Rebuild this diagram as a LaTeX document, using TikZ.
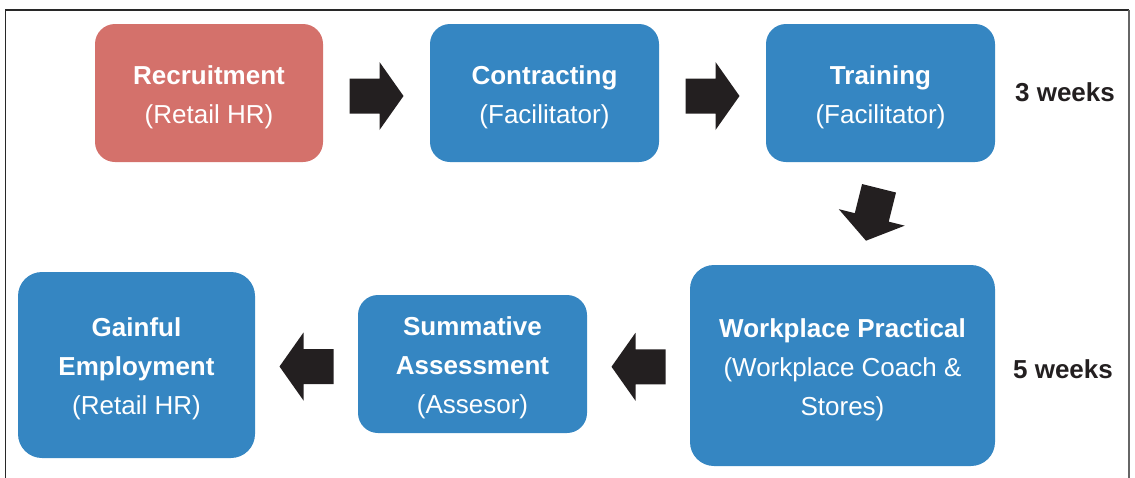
\documentclass[tikz,border=0pt]{standalone}
\usepackage{fontspec}
\setmainfont{Liberation Sans}
\usetikzlibrary{calc}
\definecolor{boxblue}{RGB}{53,134,194}
\definecolor{boxred}{RGB}{212,113,107}
\definecolor{arrowfill}{RGB}{35,31,32}
\definecolor{framegray}{RGB}{40,40,40}
\tikzset{
  x=1pt,y=1pt,
  stage/.style={fill=#1, draw=none, rounded corners=20pt, inner sep=0pt},
  stagetext/.style={text=white, align=center, font=\fontsize{26}{39}\selectfont, inner sep=0pt},
  weeks/.style={font=\fontsize{26}{30}\selectfont\bfseries, text=arrowfill, anchor=base},
  blockarrow/.pic={\fill[arrowfill] (-27,-17.5) -- (3,-17.5) -- (3,-34) -- (27,0) -- (3,34) -- (3,17.5) -- (-27,17.5) -- cycle;}
}
\begin{document}
\begin{tikzpicture}
\useasboundingbox (0,0) rectangle (1135,-477);
% frame
\draw[framegray, line width=1.2pt] (5.5,-490) -- (5.5,-10) -- (1129,-10);
\draw[gray!80!black, line width=2pt] (1129,-10) -- (1129,-490);
% boxes
\node[stage=boxred, minimum width=228, minimum height=138] (rec) at (209,-93) {};
\node[stage=boxblue, minimum width=229, minimum height=138] (con) at (544.5,-93) {};
\node[stage=boxblue, minimum width=229, minimum height=138] (tra) at (880.5,-93) {};
\node[stage=boxblue, minimum width=305, minimum height=201, rounded corners=24pt] (wp) at (842.5,-365.5) {};
\node[stage=boxblue, minimum width=229, minimum height=138] (sum) at (472.5,-364) {};
\node[stage=boxblue, minimum width=237, minimum height=186, rounded corners=24pt] (gain) at (136.5,-365) {};
% box texts
\node[stagetext] (rec-t) at ($(rec.center)+(0,-4)$) {\textbf{Recruitment}\\(Retail HR)};
\node[stagetext] (con-t) at ($(con.center)+(0,-4)$) {\textbf{Contracting}\\(Facilitator)};
\node[stagetext] (tra-t) at ($(tra.center)+(0,-4)$) {\textbf{Training}\\(Facilitator)};
\node[stagetext] (wp-t) at ($(wp.center)+(0,-4)$) {\textbf{Workplace Practical}\\(Workplace Coach \&\\Stores)};
\node[stagetext] (sum-t) at ($(sum.center)+(0,-4)$) {\textbf{Summative}\\\textbf{Assessment}\\(Assesor)};
\node[stagetext] (gain-t) at ($(gain.center)+(0,-4)$) {\textbf{Gainful}\\\textbf{Employment}\\(Retail HR)};
% durations
\node[weeks] (w3) at (1065,-101) {3 weeks};
\node[weeks] (w5) at (1063,-378) {5 weeks};
% block arrows between stages
\coordinate (a1) at ($(rec.east)!0.5!(con.west)+(0,-3)$);
\coordinate (a2) at ($(con.east)!0.5!(tra.west)+(0,-3)$);
\coordinate (a3) at ($(wp.west)!0.5!(sum.east)+(0,-2)$);
\coordinate (a4) at ($(sum.west)!0.5!(gain.east)+(0,-2)$);
\coordinate (a5) at ($(tra.south)!0.5!(wp.north)+(11,-1)$);
\pic at (a1) {blockarrow};
\pic at (a2) {blockarrow};
\pic[rotate=180] at (a3) {blockarrow};
\pic[rotate=180] at (a4) {blockarrow};
\pic[rotate=-104] at (a5) {blockarrow};
\end{tikzpicture}
\end{document}
